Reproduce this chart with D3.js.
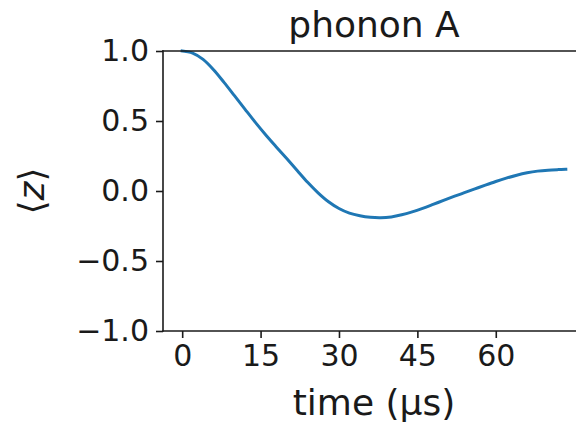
<!DOCTYPE html>
<html><head><meta charset="utf-8">
<script src="https://cdn.jsdelivr.net/npm/d3@7"></script>
<style>body{margin:0;background:#fff}svg{display:block}text{font-family:"DejaVu Sans",sans-serif;fill:#1a1a1a}</style>
</head><body><div id="chart"></div>
<script>
const timeUs = [0,2,4,6,8,10,12,14,16,18,20,22,24,26,28,30,32,34,36,38,40,42,44,46,48,50,52,54,56,58,60,62,64,66,68,70,72,73.4];
const zValues = [1.0,0.985,0.94,0.866,0.776,0.681,0.585,0.49,0.40,0.315,0.232,0.147,0.062,-0.013,-0.077,-0.125,-0.158,-0.177,-0.188,-0.191,-0.185,-0.170,-0.149,-0.124,-0.096,-0.067,-0.039,-0.012,0.015,0.042,0.068,0.092,0.113,0.130,0.142,0.149,0.153,0.155];
const xTicks = [0,15,30,45,60];
const yTicks = [-1.0,-0.5,0.0,0.5,1.0];
const titleText = "phonon A";
const xLabel = "time (μs)";

const W=576,H=426;
const L=163,T=51,B=331,R=585;
const svg=d3.select("#chart").append("svg").attr("width",W).attr("height",H);
const x=d3.scaleLinear().domain([-0.05*73.4,1.05*73.4]).range([L,R]);
const y=d3.scaleLinear().domain([-1,1]).range([B,T]);
const ink="#1a1a1a";

// line
const data=timeUs.map((t,i)=>[t,zValues[i]]);
svg.append("path").datum(data)
  .attr("d",d3.line().x(d=>x(d[0])).y(d=>y(d[1])).curve(d3.curveCatmullRom.alpha(0.5)))
  .attr("fill","none").attr("stroke","#1f77b4").attr("stroke-width",3).attr("stroke-linecap","square");

// axes
const xAxis=svg.append("g").attr("transform",`translate(0,${B})`)
  .call(d3.axisBottom(x).tickValues(xTicks).tickSize(7).tickPadding(7).tickFormat(d3.format("d")));
const yAxis=svg.append("g").attr("transform",`translate(${L},0)`)
  .call(d3.axisLeft(y).tickValues(yTicks).tickSize(7).tickPadding(7).tickFormat(d3.format(".1f")));
[xAxis,yAxis].forEach(g=>{
  g.select(".domain").remove();
  g.selectAll(".tick line").attr("stroke",ink).attr("stroke-width",1.6);
  g.selectAll(".tick text").attr("font-size",30).attr("font-family","DejaVu Sans").attr("fill",ink);
});
// spines
svg.append("line").attr("x1",L).attr("x2",L).attr("y1",T).attr("y2",B).attr("stroke",ink).attr("stroke-width",1.6).attr("stroke-linecap","square");
svg.append("line").attr("x1",L).attr("x2",R).attr("y1",B).attr("y2",B).attr("stroke",ink).attr("stroke-width",1.6).attr("stroke-linecap","square");
svg.append("line").attr("x1",L).attr("x2",R).attr("y1",T).attr("y2",T).attr("stroke",ink).attr("stroke-width",1.6).attr("stroke-linecap","square");
svg.append("line").attr("x1",R).attr("x2",R).attr("y1",T).attr("y2",B).attr("stroke",ink).attr("stroke-width",1.6);

// title
svg.append("text").attr("x",(L+R)/2).attr("y",37).attr("text-anchor","middle").attr("font-size",36).text(titleText);
// x label
svg.append("text").attr("x",(L+R)/2).attr("y",415).attr("text-anchor","middle").attr("font-size",36).text(xLabel);
// y label
const yl=svg.append("text").attr("transform",`translate(44,${(T+B)/2}) rotate(-90)`).attr("text-anchor","middle").attr("font-size",36);
yl.append("tspan").text("⟨");
yl.append("tspan").attr("font-style","italic").text("z");
yl.append("tspan").text("⟩");
</script></body></html>
